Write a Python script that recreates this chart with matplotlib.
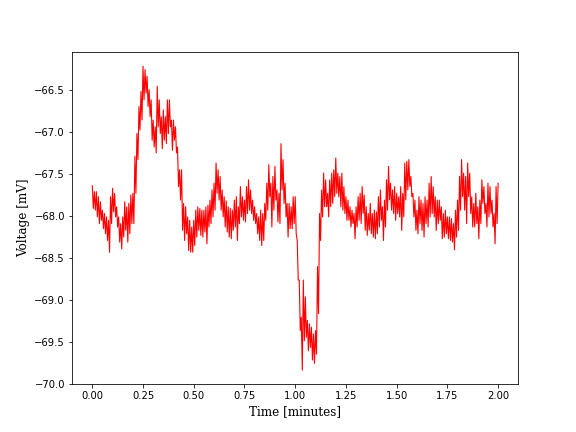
import numpy as np
import matplotlib
matplotlib.use("Agg")
import matplotlib.pyplot as plt

# time grid (minutes) of the read-off envelope, step 0.01
time_min = [round(0.01 * i, 2) for i in range(201)]

# upper envelope of the noisy trace (mV)
upper_mv = [
    -67.64, -67.71, -67.71, -67.77, -67.83, -67.93, -67.97, -68.01, -68.05, -67.77,
    -67.67, -67.73, -67.89, -68.01, -68.09, -68.01, -67.83, -67.89, -67.85, -67.75,
    -67.73, -67.29, -67.02, -66.70, -66.52, -66.22, -66.26, -66.34, -66.50, -66.62,
    -66.86, -66.94, -66.46, -66.62, -66.82, -66.74, -66.82, -66.62, -66.62, -66.86,
    -66.86, -66.94, -67.18, -67.45, -67.45, -67.85, -67.89, -68.01, -68.05, -68.13,
    -68.05, -67.93, -67.89, -67.91, -67.93, -67.93, -67.89, -67.87, -67.81, -67.69,
    -67.61, -67.37, -67.45, -67.53, -67.69, -67.77, -67.82, -67.89, -67.91, -67.93,
    -67.81, -67.77, -67.89, -67.65, -67.77, -67.81, -67.65, -67.57, -67.69, -67.81,
    -67.89, -67.97, -68.01, -67.93, -67.97, -67.85, -67.61, -67.39, -67.61, -67.53,
    -67.41, -67.69, -67.73, -67.14, -67.33, -67.61, -67.85, -67.85, -67.89, -67.77,
    -67.77, -68.29, -68.76, -69.20, -68.76, -68.96, -69.24, -69.28, -69.32, -69.40,
    -69.36, -68.60, -67.97, -67.69, -67.49, -67.57, -67.73, -67.57, -67.49, -67.45,
    -67.31, -67.49, -67.53, -67.49, -67.65, -67.77, -67.81, -67.89, -67.93, -67.97,
    -67.89, -67.77, -67.73, -67.65, -67.75, -67.89, -67.97, -67.85, -67.97, -67.93,
    -67.95, -67.77, -67.69, -67.89, -67.81, -67.57, -67.41, -67.61, -67.69, -67.65,
    -67.73, -67.77, -67.65, -67.73, -67.37, -67.35, -67.33, -67.53, -67.73, -67.81,
    -67.93, -67.77, -67.81, -67.85, -67.77, -67.81, -67.61, -67.53, -67.65, -67.77,
    -67.81, -67.81, -67.89, -67.97, -67.93, -68.01, -68.01, -68.03, -68.09, -67.93,
    -67.81, -67.53, -67.33, -67.49, -67.53, -67.37, -67.49, -67.77, -67.85, -67.73,
    -67.89, -67.81, -67.57, -67.65, -67.85, -67.61, -67.65, -67.81, -67.97, -67.65,
    -67.61,
]

# lower envelope of the noisy trace (mV)
lower_mv = [
    -67.91, -67.93, -68.01, -68.09, -68.05, -68.15, -68.21, -68.29, -68.43, -68.09,
    -67.95, -68.01, -68.13, -68.31, -68.39, -68.25, -68.17, -68.31, -68.21, -68.09,
    -68.09, -67.73, -67.33, -66.98, -66.86, -66.62, -66.54, -66.70, -66.82, -67.10,
    -67.18, -67.25, -66.94, -67.02, -67.20, -67.10, -67.14, -67.02, -66.94, -67.22,
    -67.10, -67.25, -67.65, -67.81, -68.17, -68.29, -68.21, -68.41, -68.43, -68.43,
    -68.35, -68.25, -68.17, -68.23, -68.25, -68.19, -68.33, -68.13, -68.09, -68.01,
    -67.93, -67.73, -67.81, -67.93, -68.01, -68.13, -68.19, -68.25, -68.27, -68.17,
    -68.13, -68.29, -68.09, -68.01, -68.05, -68.07, -67.97, -67.93, -67.97, -68.05,
    -68.09, -68.21, -68.29, -68.35, -68.29, -68.05, -67.93, -67.77, -68.13, -67.93,
    -67.81, -68.07, -68.09, -67.69, -67.85, -68.01, -68.25, -68.15, -68.15, -68.09,
    -68.21, -68.76, -69.36, -69.83, -69.48, -69.44, -69.60, -69.56, -69.71, -69.75,
    -69.64, -69.16, -68.29, -68.01, -67.89, -67.89, -68.01, -67.89, -67.85, -67.77,
    -67.73, -67.77, -67.89, -67.93, -67.97, -68.05, -68.05, -68.13, -68.09, -68.27,
    -68.13, -68.05, -68.09, -67.97, -68.17, -68.23, -68.17, -68.21, -68.25, -68.27,
    -68.21, -68.13, -68.05, -68.29, -68.13, -67.93, -67.81, -67.93, -67.97, -68.05,
    -67.97, -68.01, -68.17, -68.01, -67.81, -67.69, -67.65, -67.77, -68.01, -68.17,
    -68.21, -68.09, -68.17, -68.25, -68.09, -68.13, -68.01, -67.97, -68.01, -68.17,
    -68.09, -68.05, -68.27, -68.25, -68.21, -68.27, -68.29, -68.31, -68.40, -68.25,
    -68.17, -67.93, -67.77, -67.93, -68.09, -67.77, -67.97, -68.13, -68.13, -68.09,
    -68.27, -68.09, -67.85, -67.97, -68.13, -68.01, -67.97, -68.13, -68.33, -68.09,
    -68.05,
]

# interleave envelopes: upper at t, lower half a step later
t = []
v = []
for i in range(len(time_min)):
    t.append(time_min[i])
    v.append(upper_mv[i])
    if i < len(time_min) - 1:
        t.append(time_min[i] + 0.005)
        v.append(lower_mv[i])

fig = plt.figure(figsize=(8, 6), dpi=72)
ax = fig.add_subplot(111)
ax.plot(t, v, color="red", linewidth=1.1)
ax.set_ylim(-70.0, -66.05)
ax.set_xlim(-0.1, 2.1)
ax.set_xticks([0.0, 0.25, 0.5, 0.75, 1.0, 1.25, 1.5, 1.75, 2.0])
ax.set_yticks([-70.0, -69.5, -69.0, -68.5, -68.0, -67.5, -67.0, -66.5])
ax.set_xlabel("Time [minutes]", family="DejaVu Serif", fontsize=12)
ax.set_ylabel("Voltage [mV]", family="DejaVu Serif", fontsize=12)
fig.savefig("out.png", dpi=72)
